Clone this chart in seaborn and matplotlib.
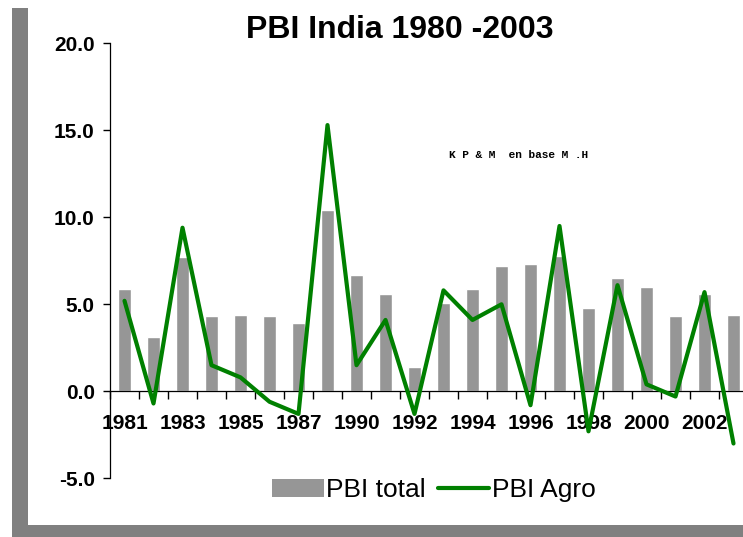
import numpy as np
import matplotlib
matplotlib.use("Agg")
import matplotlib.pyplot as plt
import seaborn as sns
from matplotlib.patches import Rectangle, Patch
from matplotlib.lines import Line2D

# ── Data ──────────────────────────────────────────
years = ["1981", "1982", "1983", "1984", "1985", "1986", "1987", "1988",
         "1990", "1991", "1992", "1993", "1994", "1995", "1996", "1997",
         "1998", "1999", "2000", "2001", "2002", "2003"]
pbi_total = [5.9, 3.1, 7.7, 4.3, 4.4, 4.3, 3.9, 10.4,
             6.7, 5.6, 1.4, 5.1, 5.9, 7.2, 7.3, 7.8,
             4.8, 6.5, 6.0, 4.3, 5.6, 4.4]
pbi_agro = [5.2, -0.7, 9.4, 1.5, 0.8, -0.6, -1.3, 15.3,
            1.5, 4.1, -1.3, 5.8, 4.1, 5.0, -0.8, 9.5,
            -2.3, 6.1, 0.4, -0.3, 5.7, -3.0]
y_ticks = [-5, 0, 5, 10, 15, 20]

BAR_GREY = "#969696"
GREEN    = "#008000"

sns.set_style("white")
plt.rcParams["font.family"] = ["Liberation Sans", "DejaVu Sans"]
plt.rcParams["text.color"] = "black"
plt.rcParams["xtick.color"] = "black"
plt.rcParams["ytick.color"] = "black"
plt.rcParams["xtick.bottom"] = True
plt.rcParams["ytick.left"] = True

fig = plt.figure(figsize=(7.43, 5.37), dpi=100)

# ── Shadowed white panel ──────────────────────────
W, H = 743, 537
fig.patches.append(Rectangle((12 / W, 0), 1, 529 / H, transform=fig.transFigure,
                             facecolor="#808080", edgecolor="none", zorder=-2))
fig.patches.append(Rectangle((28 / W, 12 / H), 1, 1, transform=fig.transFigure,
                             facecolor="white", edgecolor="none", zorder=-1))

ax = fig.add_axes([110 / W, 1 - 478.3 / H, 638 / W, 435 / H])
ax.set_zorder(1)
ax.patch.set_alpha(0)

# ── Bars + line ───────────────────────────────────
sns.barplot(x=years, y=pbi_total, color=BAR_GREY, width=0.47,
            saturation=1, ax=ax, zorder=2)
sns.lineplot(x=np.arange(len(years)), y=pbi_agro, color=GREEN,
             linewidth=3, ax=ax, zorder=3)

# ── Axes styling ──────────────────────────────────
ax.set_ylim(-5, 20)
ax.set_xlim(-0.5, len(years) - 0.5)
ax.set_yticks(y_ticks, labels=[f"{v:.1f}" for v in y_ticks],
              fontsize=15, fontweight="bold")
ax.tick_params(axis="y", direction="out", length=5, width=1,
               pad=6, left=True, colors="black")

# major ticks sit between categories, labels on every other category
ax.set_xticks(np.arange(-0.5, len(years), 1), labels=[""] * (len(years) + 1))
ax.set_xticks(np.arange(0, len(years), 2), labels=years[::2], minor=True)
ax.tick_params(axis="x", which="major", direction="out", length=5.5,
               width=1, bottom=True, color="black")
ax.tick_params(axis="x", which="minor", length=0, pad=16, bottom=True,
               labelsize=15)

ax.spines["bottom"].set_position(("data", 0))
ax.spines["top"].set_visible(False)
ax.spines["right"].set_visible(False)
for s in ("left", "bottom"):
    ax.spines[s].set_color("black")
    ax.spines[s].set_linewidth(0.9)
ax.set_xlabel("")
ax.set_ylabel("")

# ── Titles / notes ────────────────────────────────
fig.text(400 / W, 1 - 30 / H, "PBI India 1980 -2003", ha="center",
         va="center", fontsize=23, fontweight="bold")
fig.text(519 / W, 1 - 155 / H, "K P & M  en base M .H", ha="center",
         va="center", fontsize=8, fontweight="bold",
         family=["Liberation Mono", "DejaVu Sans Mono"])

# ── Legend ────────────────────────────────────────
handles = [Patch(facecolor=BAR_GREY, edgecolor="none"),
           Line2D([0], [0], color=GREEN, linewidth=3)]
fig.legend(handles, ["PBI total", "PBI Agro"], loc="center",
           bbox_to_anchor=(434 / W, 1 - 490 / H), ncol=2, frameon=False,
           fontsize=19, handlelength=1.95, handleheight=0.65,
           handletextpad=0.1, columnspacing=0.45, borderpad=0)

# tick objects are rebuilt at draw time, so make the labels bold afterwards
fig.canvas.draw()
for lab in ax.get_xticklabels(minor=True):
    lab.set_fontweight("bold")

fig.savefig("out.png", dpi=100)
